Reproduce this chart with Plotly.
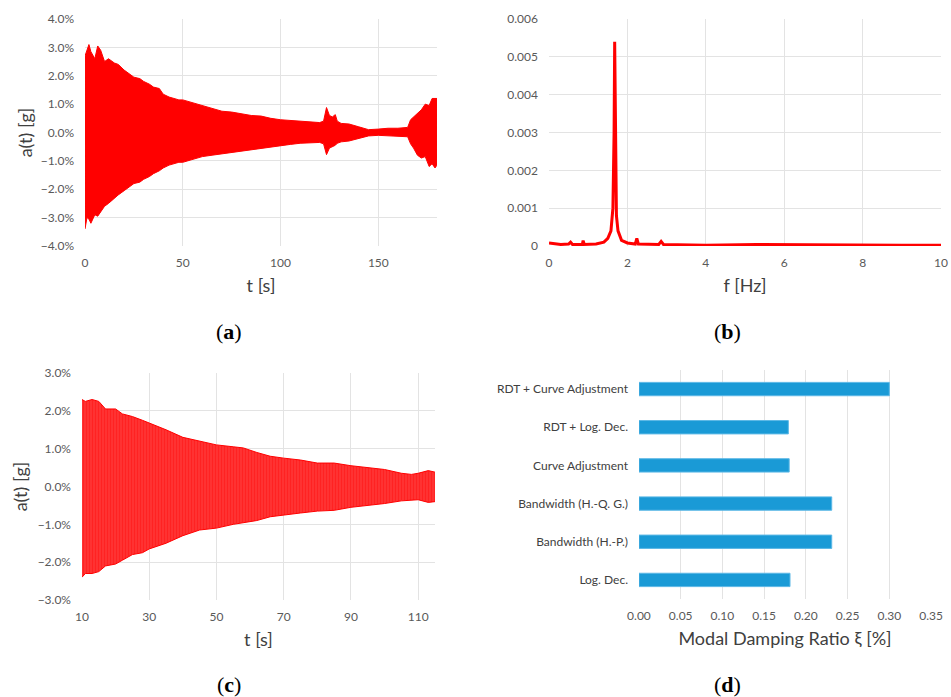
import plotly.graph_objects as go

# ---------- (a) full record envelope (percent g) ----------
a_t = [0, 1, 2, 3, 5, 6.5, 8, 10, 12, 15, 17, 20, 22, 25, 28, 30, 33, 35, 38, 40, 43, 45, 48, 50, 55, 60, 65, 70, 75, 80, 85, 90, 95, 100, 105, 110, 115, 120, 122, 123.5, 125, 126.5, 128, 129, 131, 135, 140, 145, 150, 155, 160, 165, 166.5, 168, 170, 172, 174, 176, 177.5, 179, 180]
a_up = [2.7, 2.9, 3.1, 2.85, 2.6, 3.05, 2.9, 2.5, 2.6, 2.45, 2.4, 2.2, 2.1, 1.95, 1.9, 1.8, 1.7, 1.6, 1.55, 1.35, 1.25, 1.2, 1.15, 1.15, 1.05, 0.95, 0.85, 0.75, 0.72, 0.65, 0.6, 0.58, 0.5, 0.45, 0.42, 0.4, 0.36, 0.35, 0.4, 0.88, 0.6, 0.55, 0.63, 0.4, 0.32, 0.3, 0.2, 0.1, 0.12, 0.15, 0.15, 0.18, 0.45, 0.55, 0.7, 0.8, 1.0, 0.95, 1.2, 1.2, 1.2]
a_lo = [-3.4, -3.0, -3.05, -3.2, -2.9, -2.95, -2.8, -2.6, -2.5, -2.3, -2.2, -2.05, -1.95, -1.8, -1.75, -1.65, -1.55, -1.45, -1.35, -1.25, -1.15, -1.1, -1.05, -1.05, -0.95, -0.85, -0.8, -0.75, -0.7, -0.65, -0.6, -0.55, -0.5, -0.45, -0.42, -0.38, -0.36, -0.35, -0.4, -0.78, -0.55, -0.5, -0.45, -0.38, -0.33, -0.3, -0.2, -0.12, -0.1, -0.12, -0.15, -0.15, -0.4, -0.55, -0.8, -0.9, -0.85, -1.2, -1.1, -1.25, -1.15]
a_ticks = [-4, -3, -2, -1, 0, 1, 2, 3, 4]

# ---------- (b) spectrum ----------
b_f = [0, 0.3, 0.5, 0.55, 0.6, 0.85, 0.87, 0.9, 1.2, 1.4, 1.5, 1.58, 1.63, 1.66, 1.675, 1.69, 1.72, 1.76, 1.85, 2.0, 2.2, 2.24, 2.28, 2.8, 2.86, 2.92, 3.5, 4, 5.3, 6.3, 7.5, 8, 9, 10]
b_a = [0.00008, 0.00004, 0.00005, 0.0001, 0.00004, 0.00004, 0.00014, 0.00004, 0.00005, 0.0001, 0.0002, 0.0004, 0.001, 0.003, 0.0054, 0.003, 0.0008, 0.0004, 0.00015, 0.00008, 0.00005, 0.0002, 0.00005, 0.00004, 0.00012, 0.00004, 0.00003, 0.00002, 0.00004, 0.00003, 0.00002, 0.00003, 0.00002, 0.00002]
b_ticks = [0, 0.001, 0.002, 0.003, 0.004, 0.005, 0.006]
b_labels = ["0", "0.001", "0.002", "0.003", "0.004", "0.005", "0.006"]

# ---------- (c) windowed record envelope ----------
c_t = [10, 11, 13, 15, 17, 20, 22, 25, 28, 30, 35, 40, 45, 50, 55, 58, 62, 66, 70, 75, 80, 85, 90, 95, 100, 105, 108, 110, 113, 115]
c_up = [2.3, 2.25, 2.3, 2.25, 2.05, 2.05, 1.92, 1.85, 1.75, 1.68, 1.5, 1.3, 1.2, 1.1, 1.05, 1.02, 0.9, 0.8, 0.75, 0.7, 0.62, 0.62, 0.55, 0.5, 0.45, 0.35, 0.32, 0.35, 0.42, 0.38]
c_lo = [-2.4, -2.3, -2.3, -2.25, -2.1, -2.05, -1.95, -1.8, -1.75, -1.65, -1.5, -1.3, -1.15, -1.1, -1.0, -0.95, -0.9, -0.8, -0.75, -0.7, -0.65, -0.63, -0.55, -0.5, -0.45, -0.38, -0.35, -0.35, -0.42, -0.4]
c_ticks = [-3, -2, -1, 0, 1, 2, 3]

# ---------- (d) damping ratios ----------
d_methods = ["Log. Dec.", "Bandwidth (H.-P.)", "Bandwidth (H.-Q. G.)", "Curve Adjustment", "RDT + Log. Dec.", "RDT + Curve Adjustment"]
d_values = [0.181, 0.231, 0.231, 0.180, 0.179, 0.300]
d_ticks = [0, 0.05, 0.1, 0.15, 0.2, 0.25, 0.3, 0.35]


def pct(v):
    s = f"{abs(v):.1f}%"
    return ("\u2212" + s) if v < 0 else s


RED = "#ff0000"
GRID = "#e3e3e3"
FONT = "Lato"
TICKC = "#595959"
TITLEC = "#404040"

fig = go.Figure()

# (a)
fig.add_trace(go.Scatter(x=a_t, y=a_lo, mode="lines", line=dict(color=RED, width=1), xaxis="x", yaxis="y", showlegend=False))
fig.add_trace(go.Scatter(x=a_t, y=a_up, mode="lines", line=dict(color=RED, width=1), fill="tonexty", fillcolor=RED, xaxis="x", yaxis="y", showlegend=False))

# (b)
fig.add_trace(go.Scatter(x=b_f, y=b_a, mode="lines", line=dict(color=RED, width=3), xaxis="x2", yaxis="y2", showlegend=False))

# (c)
fig.add_trace(go.Scatter(x=c_t, y=c_lo, mode="lines", line=dict(color=RED, width=1), xaxis="x3", yaxis="y3", showlegend=False))
fig.add_trace(go.Scatter(x=c_t, y=c_up, mode="lines", line=dict(color=RED, width=1), fill="tonexty", fillcolor=RED,
                         fillpattern=dict(shape="|", fgcolor="#ff0000", bgcolor="#ff4545", size=3, solidity=0.7),
                         xaxis="x3", yaxis="y3", showlegend=False))

# (d)
fig.add_trace(go.Bar(x=d_values, y=d_methods, orientation="h", width=0.35, marker=dict(color="#1a9ad6", line=dict(color="#5cb8e6", width=1)),
                     xaxis="x4", yaxis="y4", showlegend=False))

tickf = dict(family=FONT, size=12, color=TICKC)
titf = dict(family=FONT, size=18, color=TITLEC)


def ax(**kw):
    base = dict(showgrid=True, gridcolor=GRID, gridwidth=1, zeroline=False, showline=False, ticks="",
                tickfont=tickf, automargin=False)
    base.update(kw)
    return base


fig.update_layout(
    width=951, height=697, margin=dict(l=0, r=0, t=0, b=0),
    paper_bgcolor="white", plot_bgcolor="white",
    font=dict(family=FONT),
    xaxis=ax(domain=[0.0894, 0.4595], range=[0, 180], tickvals=[0, 50, 100, 150], anchor="y", ticklabelstandoff=8,
             title=dict(text="t [s]", font=titf, standoff=10)),
    yaxis=ax(domain=[0.6471, 0.9727], range=[-4, 4], tickvals=a_ticks, ticktext=[pct(v) for v in a_ticks], anchor="x",
             ticklabelstandoff=10, title=dict(text="a(t) [g]", font=titf, standoff=3)),
    xaxis2=ax(domain=[0.5773, 0.9895], range=[0, 10], tickvals=[0, 2, 4, 6, 8, 10], anchor="y2", ticklabelstandoff=8,
              title=dict(text="f [Hz]", font=titf, standoff=10)),
    yaxis2=ax(domain=[0.6471, 0.9727], range=[0, 0.006], tickvals=b_ticks, ticktext=b_labels, anchor="x2", ticklabelstandoff=10),
    xaxis3=ax(domain=[0.0862, 0.4574], range=[10, 115], tickvals=[10, 30, 50, 70, 90, 110], anchor="y3", ticklabelstandoff=8,
              title=dict(text="t [s]", font=titf, standoff=10)),
    yaxis3=ax(domain=[0.1392, 0.4648], range=[-3, 3], tickvals=c_ticks, ticktext=[pct(v) for v in c_ticks], anchor="x3",
              ticklabelstandoff=10, title=dict(text="a(t) [g]", font=titf, standoff=5)),
    xaxis4=ax(domain=[0.6719, 0.9790], range=[0, 0.35], tickvals=d_ticks, ticktext=[f"{v:.2f}" for v in d_ticks], anchor="y4",
              ticklabelstandoff=8, title=dict(text="Modal Damping Ratio ξ [%]", font=titf, standoff=10)),
    yaxis4=ax(domain=[0.1406, 0.4692], range=[-0.5, 5.5], showgrid=False, anchor="x4", ticklabelstandoff=10,
              tickfont=dict(family=FONT, size=12, color=TITLEC)),
)

capf = dict(family="Liberation Serif", size=22, color="black")
for txt, x, y in [("(<b>a</b>)", 229, 331), ("(<b>b</b>)", 727, 331), ("(<b>c</b>)", 229, 684), ("(<b>d</b>)", 727, 684)]:
    fig.add_annotation(text=txt, x=x / 951, y=1 - y / 697, xref="paper", yref="paper", showarrow=False, font=capf,
                       xanchor="center", yanchor="middle")

fig.write_html("out.html")
